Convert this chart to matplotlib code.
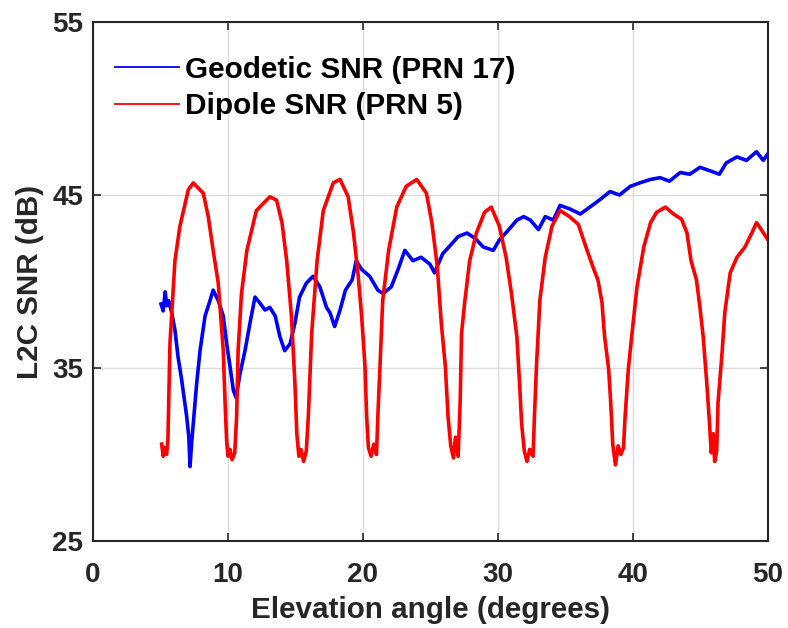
import matplotlib
matplotlib.use("Agg")
import matplotlib.pyplot as plt
from matplotlib.lines import Line2D

plt.rcParams['font.family'] = ['Liberation Sans', 'DejaVu Sans']
plt.rcParams['font.weight'] = 'bold'

# Geodetic antenna SNR, PRN 17 (elevation deg, dB)
geo_elev = [5.04, 5.2, 5.35, 5.46, 5.6, 5.83, 6.07, 6.3, 6.57, 6.94, 7.1, 7.19, 7.3, 7.43, 7.68,
            7.93, 8.3, 8.67, 8.9, 9.28, 9.65, 9.9, 10.15, 10.4, 10.6, 10.9, 11.26, 11.63,
            12.0, 12.37, 12.74, 13.1, 13.5, 13.85, 14.2, 14.6, 14.96, 15.3, 15.8, 16.3,
            16.8, 17.3, 17.55, 17.9, 18.3, 18.7, 19.2, 19.5, 19.9, 20.5, 21.1, 21.5, 22.1,
            22.6, 23.1, 23.7, 24.3, 24.96, 25.3, 25.9, 26.6, 27.05, 27.7, 28.3, 28.9,
            29.65, 30.1, 30.8, 31.4, 31.9, 32.4, 33.0, 33.5, 34.1, 34.6, 35.3, 36.1, 36.8,
            37.5, 38.3, 39.0, 39.8, 40.5, 41.3, 42.0, 42.7, 43.5, 44.2, 44.96, 45.7, 46.4,
            46.9, 47.7, 48.4, 49.15, 49.65, 50.0]
geo_snr = [38.7, 38.3, 39.4, 38.6, 38.9, 38.2, 37.2, 35.65, 34.3, 32.2, 31.0, 29.3, 30.6, 31.8, 34.1,
           36.0, 38.0, 38.9, 39.5, 38.9, 38.0, 36.4, 35.1, 33.7, 33.3, 34.7, 36.0, 37.6,
           39.1, 38.75, 38.35, 38.5, 38.0, 36.8, 36.0, 36.4, 37.6, 39.1, 39.9, 40.3,
           39.7, 38.5, 38.2, 37.4, 38.35, 39.5, 40.1, 41.2, 40.7, 40.3, 39.5, 39.3, 39.7,
           40.7, 41.8, 41.2, 41.4, 41.0, 40.5, 41.6, 42.2, 42.6, 42.8, 42.5, 42.0,
           41.8, 42.4, 43.0, 43.55, 43.75, 43.55, 43.0, 43.75, 43.55, 44.4, 44.2, 43.9, 44.3,
           44.7, 45.2, 45.0, 45.5, 45.7, 45.9, 46.0, 45.8, 46.3, 46.2, 46.6, 46.4, 46.2,
           46.85, 47.2, 47.0, 47.5, 47.0, 47.4]

# Dipole antenna SNR, PRN 5 (elevation deg, dB)
dip_elev = [5.09, 5.2, 5.3, 5.45, 5.55, 5.7, 6.07, 6.44, 7.06, 7.43, 8.17, 8.54, 8.9, 9.28,
            9.65, 9.78, 9.9, 10.0, 10.15, 10.3, 10.5, 10.64, 10.75, 11.0, 11.4, 12.1, 13.1,
            13.6, 14.0, 14.35, 14.7, 14.96, 15.1, 15.25, 15.4, 15.6, 15.8, 15.95, 16.2,
            16.6, 17.06, 17.8, 18.3, 18.9, 19.3, 19.65, 19.9, 20.15, 20.27, 20.4, 20.6,
            20.8, 21.0, 21.1, 21.26, 21.46, 21.9, 22.5, 23.2, 23.98, 24.7, 25.1, 25.5,
            25.8, 26.1, 26.3, 26.5, 26.7, 26.85, 27.05, 27.2, 27.3, 27.55, 27.9, 28.4,
            29.0, 29.5, 30.1, 30.6, 31.0, 31.4, 31.6, 31.75, 31.95, 32.15, 32.35, 32.6,
            32.7, 32.85, 33.1, 33.5, 34.0, 34.6, 35.3, 35.95, 36.6, 37.1, 37.4, 37.7,
            37.9, 38.2, 38.35, 38.5, 38.7, 38.9, 39.1, 39.3, 39.4, 39.65, 39.9, 40.3,
            40.8, 41.3, 41.75, 42.4, 43.0, 43.6, 44.0, 44.3, 44.7, 44.96, 45.2, 45.45,
            45.65, 45.8, 45.95, 46.05, 46.2, 46.3, 46.6, 46.8, 47.2, 47.7, 48.3, 48.8,
            49.15, 49.5, 50.0]
dip_snr = [30.6, 29.9, 30.4, 30.0, 30.8, 36.4, 41.2, 43.2, 45.3, 45.7, 45.1, 43.75, 41.8, 39.9,
           36.0, 33.1, 30.8, 29.9, 30.3, 29.7, 30.1, 32.2, 36.0, 39.3, 41.8, 44.1, 44.9,
           44.7, 43.4, 41.2, 38.0, 34.1, 31.2, 29.9, 30.3, 29.6, 30.2, 32.2, 37.0,
           41.2, 44.1, 45.7, 45.9, 44.9, 42.8, 40.3, 38.0, 35.1, 32.2, 30.4, 29.9,
           30.6, 30.0, 32.2, 35.1, 38.9, 41.8, 44.3, 45.5, 45.9, 45.1, 43.4, 40.9,
           37.6, 35.1, 32.2, 30.5, 29.8, 31.0, 29.9, 33.1, 37.0, 38.9, 41.2, 42.8,
           44.0, 44.3, 43.2, 41.4, 39.3, 36.8, 34.1, 31.8, 30.2, 29.6, 30.3, 29.9,
           32.2, 35.1, 38.9, 41.4, 43.2, 44.1, 43.75, 43.3, 41.8, 40.7, 40.1, 38.8,
           36.8, 34.9, 33.0, 30.6, 29.4, 30.5, 30.0, 30.4, 32.0, 34.9, 36.8, 39.7,
           42.0, 43.4, 44.0, 44.3, 43.9, 43.6, 42.8, 41.2, 40.1, 38.5, 36.8, 34.3,
           32.0, 30.1, 31.2, 29.6, 30.2, 33.0, 35.9, 38.2, 40.5, 41.4, 42.0, 42.8,
           43.4, 43.0, 42.4]

x_ticks = [0, 10, 20, 30, 40, 50]
y_ticks = [25, 35, 45, 55]

fig = plt.figure(figsize=(7.88, 6.28), dpi=100)
ax = fig.add_axes([0.118, 0.1385, 0.8566, 0.8265])

ax.plot(geo_elev, geo_snr, color='#0000ff', lw=2.6, solid_joinstyle='round')
ax.plot(dip_elev, dip_snr, color='#ff0000', lw=2.6, solid_joinstyle='round')

ax.set_xlim(0, 50)
ax.set_ylim(25, 55)
ax.set_xticks(x_ticks)
ax.set_yticks(y_ticks)
ax.grid(True, color='#dcdcdc', lw=1.0)
ax.set_axisbelow(True)
ax.tick_params(direction='in', length=6, width=1.2, top=True, right=True,
               labelsize=20, colors='#262626')
ax.tick_params(axis='x', pad=15)
ax.tick_params(axis='y', pad=7)
for lab in ax.get_xticklabels() + ax.get_yticklabels():
    lab.set_fontweight('bold')
for s in ax.spines.values():
    s.set_color('#262626')
    s.set_linewidth(1.5)

ax.set_xlabel('Elevation angle (degrees)', fontsize=21.3, fontweight='bold', color='#262626', labelpad=6)
ax.set_ylabel('L2C SNR (dB)', fontsize=21.3, fontweight='bold', color='#262626', labelpad=6)

handles = [Line2D([], [], color='#0000ff', lw=1.3), Line2D([], [], color='#ff0000', lw=1.3)]
ax.legend(handles, ['Geodetic SNR (PRN 17)', 'Dipole SNR (PRN 5)'], loc='upper left',
          bbox_to_anchor=(0.0148, 0.9576), borderaxespad=0,
          frameon=False, handlelength=2.15, handletextpad=0.2,
          labelspacing=0.28, prop={'weight': 'bold', 'size': 21.4})

fig.savefig('out.png', dpi=100)
